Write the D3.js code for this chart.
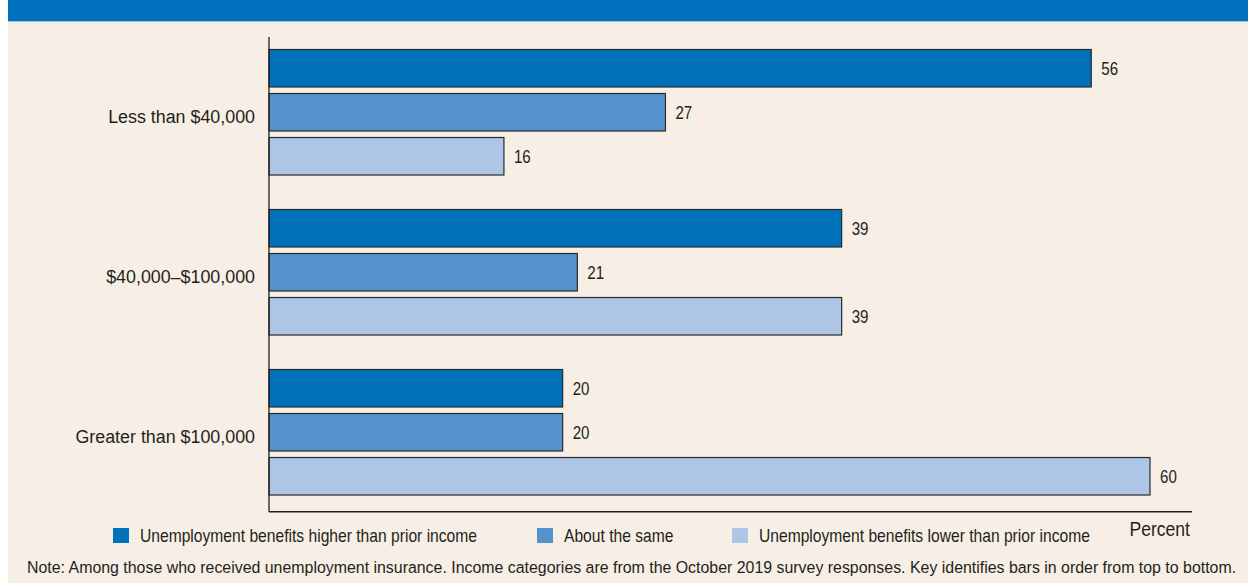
<!DOCTYPE html>
<html><head><meta charset="utf-8">
<script src="https://cdn.jsdelivr.net/npm/d3@7"></script>
<style>
html,body{margin:0;padding:0;background:#fff;}
svg{display:block;}
text{font-family:"Liberation Sans","Arial",sans-serif;fill:#231f20;}
</style></head>
<body>
<svg id="chart" width="1248" height="583"></svg>
<script>
const categories = ["Less than $40,000", "$40,000–$100,000", "Greater than $100,000"];
const seriesNames = ["Unemployment benefits higher than prior income", "About the same", "Unemployment benefits lower than prior income"];
const higherValues = [56, 39, 20];
const sameValues = [27, 21, 20];
const lowerValues = [16, 39, 60];
const seriesColors = ["#0071bb", "#5593cf", "#adc5e6"];
const axisLabel = "Percent";
const noteText = "Note: Among those who received unemployment insurance. Income categories are from the October 2019 survey responses. Key identifies bars in order from top to bottom.";

const seriesValues = [higherValues, sameValues, lowerValues];
const data = categories.map((c, i) => ({cat: c, vals: seriesValues.map((s, j) => ({key: j, v: s[i]}))}));

const svg = d3.select("#chart");
svg.append("rect").attr("x", 8).attr("y", 0).attr("width", 1240).attr("height", 583).attr("fill", "#f7efe6");
svg.append("rect").attr("x", 8).attr("y", 0).attr("width", 1240).attr("height", 21).attr("fill", "#0071bc");
svg.append("rect").attr("x", 8).attr("y", 21).attr("width", 1240).attr("height", 1).attr("fill", "#9cc3e6");

const x = d3.scaleLinear().domain([0, 60]).range([269, 1150]);
const y0 = d3.scaleBand().domain(categories).range([32.25, 512.25]).paddingInner(0.2156).paddingOuter(0.1078);
const y1 = d3.scaleBand().domain([0, 1, 2]).range([0, y0.bandwidth()]).paddingInner(0.148).paddingOuter(0);

// condensed text helper
function ctext(sel, px, py, size, sx, anchor) {
  return sel.append("text")
    .attr("transform", `translate(${px},${py}) scale(${sx},1)`)
    .attr("font-size", size)
    .attr("text-anchor", anchor || "start")
    .attr("dy", "0.36em");
}

const g = svg.append("g");
const groups = g.selectAll("g.grp").data(data).join("g").attr("class", "grp")
  .attr("transform", d => `translate(0,${y0(d.cat)})`);

groups.selectAll("rect").data(d => d.vals).join("rect")
  .attr("x", x(0))
  .attr("y", d => y1(d.key))
  .attr("width", d => x(d.v) - x(0))
  .attr("height", y1.bandwidth())
  .attr("fill", d => seriesColors[d.key])
  .attr("stroke", "#2b2b2b")
  .attr("stroke-width", 1.2);

groups.each(function(d) {
  const gg = d3.select(this);
  d.vals.forEach(v => {
    ctext(gg, x(v.v) + 10, y1(v.key) + y1.bandwidth() / 2, 18, 0.84).text(v.v);
  });
  ctext(gg, x(0) - 14, y0.bandwidth() / 2 + 4, 19, 0.94, "end").text(d.cat);
});

const axisBottom = y0.range()[1] - 0.5;
svg.append("line").attr("x1", x(0)).attr("x2", x(0)).attr("y1", 37).attr("y2", axisBottom)
  .attr("stroke", "#231f20").attr("stroke-width", 1.3);
svg.append("line").attr("x1", x(0)).attr("x2", 1192).attr("y1", axisBottom).attr("y2", axisBottom)
  .attr("stroke", "#231f20").attr("stroke-width", 1.3);

ctext(svg, 1190, 529, 19.5, 0.9, "end").text(axisLabel);

const legendX = [113, 537, 732];
const lg = svg.append("g").selectAll("g").data(seriesNames).join("g")
  .attr("transform", (d, i) => `translate(${legendX[i]},528)`);
lg.append("rect").attr("width", 16).attr("height", 15).attr("fill", (d, i) => seriesColors[i]);
lg.each(function(d) { ctext(d3.select(this), 27, 8, 17.5, 0.894).text(d); });

ctext(svg, 27, 567, 17, 0.936).text(noteText);
</script>
</body></html>
